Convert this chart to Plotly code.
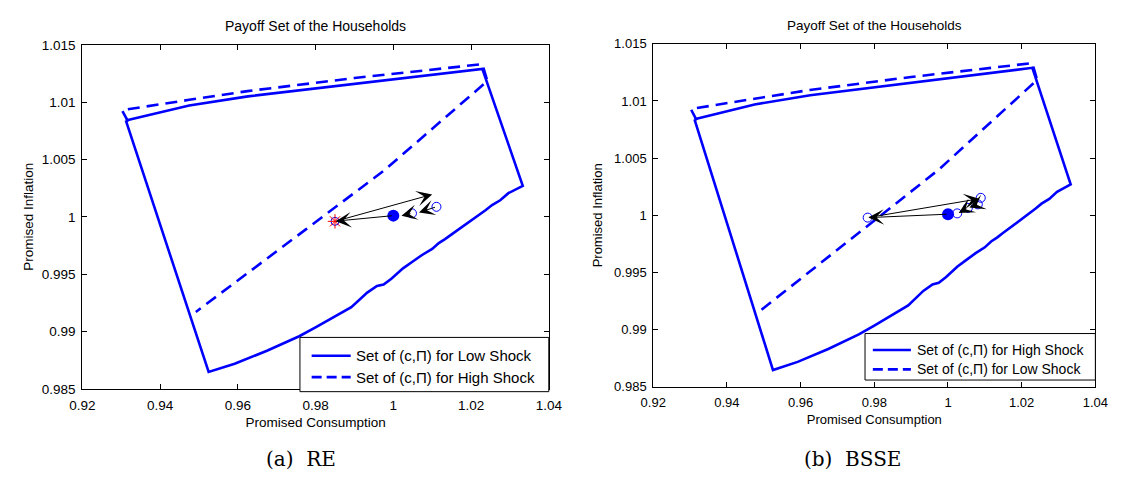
import plotly.graph_objects as go

# ---------------- data ----------------
c_tickvals = [0.92, 0.94, 0.96, 0.98, 1.00, 1.02, 1.04]
c_ticktext = ["0.92", "0.94", "0.96", "0.98", "1", "1.02", "1.04"]
pi_tickvals = [0.985, 0.99, 0.995, 1.0, 1.005, 1.01, 1.015]
pi_ticktext = ["0.985", "0.99", "0.995", "1", "1.005", "1.01", "1.015"]

# boundary of the payoff set drawn solid (closed polygon)
solid_c = [0.9312, 0.9475, 0.9626, 0.9900, 1.0229, 1.0333, 1.0308, 1.0296, 1.0275,
           1.0254, 1.0238, 1.0208, 1.0192, 1.0171, 1.0150, 1.0133, 1.0117, 1.0100,
           1.0075, 1.0050, 1.0025, 0.9995, 0.9975, 0.9958, 0.9933, 0.9892, 0.9842,
           0.9800, 0.9758, 0.9675, 0.9592, 0.9525, 0.9312]
solid_pi = [1.0084, 1.0097, 1.0105, 1.0116, 1.0129, 1.0027, 1.00223, 1.00206, 1.00144,
            1.00102, 1.00059, 0.99989, 0.99947, 0.99896, 0.99847, 0.99805, 0.99771, 0.9972,
            0.99669, 0.9961, 0.9955, 0.9946, 0.9941, 0.99396, 0.99339, 0.99212, 0.99113,
            0.99035, 0.98958, 0.98831, 0.98718, 0.98647, 1.0084]

# boundary of the payoff set drawn dashed
dashed_c = [0.9318, 0.9302, 0.9475, 0.9625, 0.9900, 1.0229, 1.0242, 1.0133, 0.9975,
            0.9775, 0.9608, 0.9492]
dashed_pi = [1.0083, 1.0093, 1.0102, 1.01096, 1.0121, 1.01331, 1.01184, 1.00864, 1.0040,
             0.9989, 0.99466, 0.9917]

# (a) RE : points
re_start_c, re_start_pi = [1.0000], [1.0001]
re_open_c, re_open_pi = [1.0048, 1.0111], [1.0003, 1.00087]
re_star_c, re_star_pi = [0.9850], [0.9996]
# (a) RE : arrows (tail -> head)
re_tail_c = [1.0111, 1.0048, 1.0000, 0.9850]
re_tail_pi = [1.00087, 1.0003, 1.0001, 0.9996]
re_head_c = [1.0066, 1.0021, 0.9852, 1.0100]
re_head_pi = [1.00038, 1.00008, 0.99962, 1.00195]

# (b) BSSE : points
bs_start_c, bs_start_pi = [1.0000], [1.0001]
bs_open_c = [0.9782, 1.0025, 1.0054, 1.0081, 1.0089]
bs_open_pi = [0.9998, 1.00017, 1.00065, 1.00096, 1.00153]
# (b) BSSE : arrows (tail -> head)
bs_tail_c = [1.0000, 0.9782, 1.0081, 1.0054]
bs_tail_pi = [1.0001, 0.9998, 1.00096, 1.00065]
bs_head_c = [0.9784, 1.0085, 1.0058, 1.0029]
bs_head_pi = [0.9998, 1.00145, 1.00068, 1.0002]

legend_a = ["Set of (c,\u03a0) for Low Shock", "Set of (c,\u03a0) for High Shock"]
legend_b = ["Set of (c,\u03a0) for High Shock", "Set of (c,\u03a0) for Low Shock"]

# ---------------- figure ----------------
W, H = 1124, 483
FONT = "Liberation Sans, Arial, Helvetica, sans-serif"
BLUE = "#0000ff"

# panel geometry in pixels
PA = dict(x0=71, x1=549, y0=39, y1=394, fs=13.5, tfs=14, lfs=15, ystand=5,
          leg=dict(x0=294, x1=549, y0=341, y1=397, r1=360, r2=382, lx0=306, lx1=346, tx=349),
          cap=(295, "(a)&nbsp;&nbsp;RE"))
PB = dict(x0=656, x1=1109, y0=38, y1=392, fs=13, tfs=13.5, lfs=14, ystand=8,
          leg=dict(x0=873, x1=1109, y0=337, y1=385, r1=354, r2=374, lx0=881, lx1=920, tx=924),
          cap=(860, "(b)&nbsp;&nbsp;BSSE"))

fig = go.Figure()
annotations = []
shapes = []

def px(x):
    return x / W

def py(y):
    return 1 - y / H

def add_panel(xa, ya, P, names):
    fig.add_trace(go.Scatter(x=solid_c, y=solid_pi, mode="lines", xaxis=xa, yaxis=ya,
                             line=dict(color=BLUE, width=2.6), name=names[0],
                             showlegend=False, hoverinfo="skip"))
    fig.add_trace(go.Scatter(x=dashed_c, y=dashed_pi, mode="lines", xaxis=xa, yaxis=ya,
                             line=dict(color=BLUE, width=2.6, dash="12px,7px"), name=names[1],
                             showlegend=False, hoverinfo="skip"))
    L = P["leg"]
    shapes.append(dict(type="rect", xref="paper", yref="paper",
                       x0=px(L["x0"]), x1=px(L["x1"]), y0=py(L["y1"]), y1=py(L["y0"]),
                       fillcolor="white", line=dict(color="black", width=1), layer="above"))
    for row, dash in ((L["r1"], "solid"), (L["r2"], "10px,5px")):
        shapes.append(dict(type="line", xref="paper", yref="paper",
                           x0=px(L["lx0"]), x1=px(L["lx1"]), y0=py(row), y1=py(row),
                           line=dict(color=BLUE, width=2.6, dash=dash), layer="above"))
    for row, name in ((L["r1"], names[0]), (L["r2"], names[1])):
        annotations.append(dict(x=px(L["tx"]), y=py(row), xref="paper", yref="paper",
                                text=name, showarrow=False, xanchor="left", yanchor="middle",
                                font=dict(size=P["lfs"], family=FONT, color="black")))
    # title
    annotations.append(dict(x=px((P["x0"] + P["x1"]) / 2), y=py(P["y0"] - 19),
                            xref="paper", yref="paper", text="Payoff Set of the Households",
                            showarrow=False, xanchor="center", yanchor="middle",
                            font=dict(size=P["tfs"], family=FONT, color="black")))
    # caption
    annotations.append(dict(x=px(P["cap"][0]), y=py(467), xref="paper", yref="paper",
                            text=P["cap"][1], showarrow=False, xanchor="center",
                            yanchor="middle",
                            font=dict(size=20, family="DejaVu Serif, serif", color="black")))

add_panel("x", "y", PA, legend_a)
add_panel("x2", "y2", PB, legend_b)

def pts(xs, ys, xa, ya, **m):
    fig.add_trace(go.Scatter(x=xs, y=ys, mode="markers", xaxis=xa, yaxis=ya,
                             marker=m, showlegend=False, hoverinfo="skip"))

# panel a markers
pts(re_open_c, re_open_pi, "x", "y", symbol="circle-open", size=9, color=BLUE, line=dict(width=1))
pts(re_star_c, re_star_pi, "x", "y", symbol="circle-open", size=8, color=BLUE, line=dict(width=1))
pts(re_star_c, re_star_pi, "x", "y", symbol="asterisk-open", size=12, color="red",
    line=dict(width=1, color="red"))
pts(re_start_c, re_start_pi, "x", "y", symbol="circle", size=12, color=BLUE)
# panel b markers
pts(bs_open_c, bs_open_pi, "x2", "y2", symbol="circle-open", size=9, color=BLUE, line=dict(width=1))
pts(bs_start_c, bs_start_pi, "x2", "y2", symbol="circle", size=12, color=BLUE)

def arrows(tc, tp, hc, hp, xr, yr):
    for a, b, c, d in zip(tc, tp, hc, hp):
        annotations.append(dict(x=c, y=d, ax=a, ay=b, xref=xr, yref=yr, axref=xr, ayref=yr,
                                text="", showarrow=True, arrowhead=3, arrowsize=2.6,
                                arrowwidth=1, arrowcolor="black", standoff=0, startstandoff=0))

arrows(re_tail_c, re_tail_pi, re_head_c, re_head_pi, "x", "y")
arrows(bs_tail_c, bs_tail_pi, bs_head_c, bs_head_pi, "x2", "y2")

def axes(P):
    base = dict(showline=True, linecolor="black", linewidth=1, mirror="ticks",
                ticks="inside", ticklen=5, tickcolor="black", showgrid=False,
                zeroline=False, tickfont=dict(size=P["fs"], family=FONT, color="black"))
    xa = dict(base, range=[0.92, 1.04], tickvals=c_tickvals, ticktext=c_ticktext,
              domain=[px(P["x0"]), px(P["x1"])], ticklabelstandoff=4,
              title=dict(text="Promised Consumption",
                         font=dict(size=P["fs"], family=FONT, color="black"), standoff=5))
    ya = dict(base, range=[0.985, 1.015], tickvals=pi_tickvals, ticktext=pi_ticktext,
              domain=[py(P["y1"]), py(P["y0"])], ticklabelstandoff=3,
              title=dict(text="Promised Inflation",
                         font=dict(size=P["fs"], family=FONT, color="black"),
                         standoff=P["ystand"]))
    return xa, ya

xa1, ya1 = axes(PA)
xa2, ya2 = axes(PB)

fig.update_layout(
    width=W, height=H, margin=dict(l=0, r=0, t=0, b=0),
    paper_bgcolor="white", plot_bgcolor="white",
    xaxis=dict(xa1, anchor="y"), yaxis=dict(ya1, anchor="x"),
    xaxis2=dict(xa2, anchor="y2"), yaxis2=dict(ya2, anchor="x2"),
    annotations=annotations, shapes=shapes, showlegend=False,
)

fig.write_html("out.html")
